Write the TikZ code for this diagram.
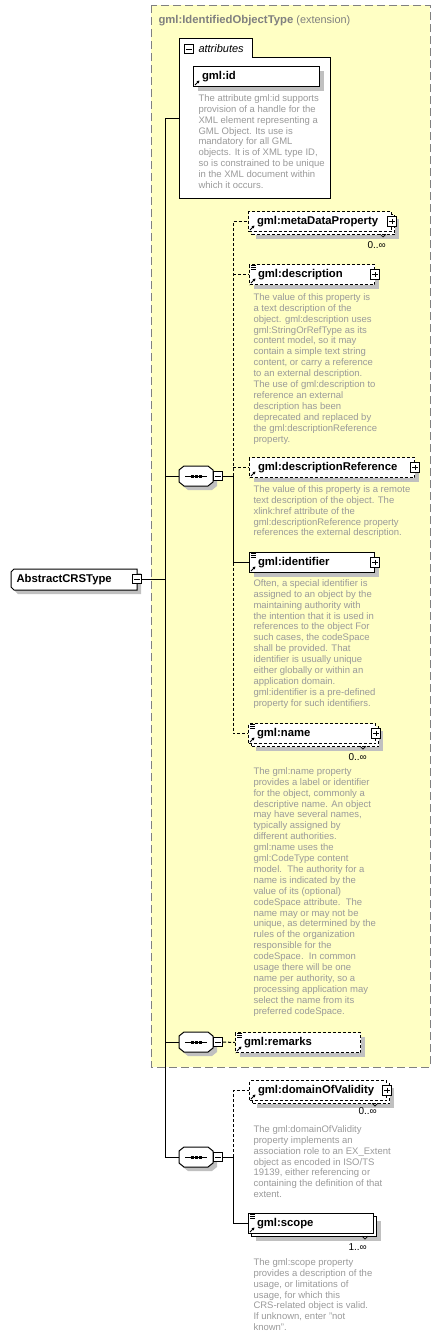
\documentclass[tikz,border=0pt]{standalone}
\usepackage{fontspec}
\setmainfont{Liberation Sans}
\usetikzlibrary{arrows.meta}
\usetikzlibrary{shadows}

\definecolor{extfill}{HTML}{FFFFC4}
\definecolor{extline}{HTML}{808080}
\definecolor{shade}{HTML}{C0C0C0}
\definecolor{doctext}{HTML}{9A9A9A}
\newcommand\elemfont{\bfseries\fontsize{11.3}{13}\selectfont}
\newcommand\docfont{\fontsize{9.5}{10.9}\selectfont}

\tikzset{
  boxshadow/.style={drop shadow={shadow xshift=4pt,shadow yshift=-4pt,fill=shade,opacity=1}},
  elembase/.style={draw,fill=white,anchor=north west,inner sep=0pt,minimum height=20pt,
    text width=#1,align=left,font=\elemfont,execute at begin node={\hspace*{8.5pt}}},
  elem/.style={elembase=#1,boxshadow},
  opt/.style={dash pattern=on 3pt off 2pt},
  pmbox/.style={draw,fill=white,minimum size=9.5pt,inner sep=0pt,line width=0.8pt},
  plusbox/.style={pmbox,path picture={
    \draw[line width=0.8pt] ([xshift=2pt]path picture bounding box.west) -- ([xshift=-2pt]path picture bounding box.east)
      ([yshift=-2pt]path picture bounding box.north) -- ([yshift=2pt]path picture bounding box.south);}},
  minusbox/.style={pmbox,path picture={
    \draw[line width=0.8pt] ([xshift=2pt]path picture bounding box.west) -- ([xshift=-2pt]path picture bounding box.east);}},
  doc/.style={anchor=north west,inner sep=0pt,align=left,font=\docfont,text=doctext,
    execute at begin node={\rule{0pt}{8pt}}},
  mult/.style={anchor=base west,inner sep=0pt,font=\fontsize{10}{12}\selectfont},
}

\begin{document}
\begin{tikzpicture}[x=1pt,y=-1pt,line width=1pt]
  \useasboundingbox (0,0) rectangle (441,1339);

  % extension frame
  \draw[extline,fill=extfill,dash pattern=on 8pt off 4pt] (151,5) rectangle (430,1067);
  \node[anchor=base west,inner sep=0pt,text=extline] (exttitle) at (158,23)
    {\elemfont gml:IdentifiedObjectType \normalfont\fontsize{10.9}{12}\selectfont(extension)};

  % attributes
  \filldraw[fill=white] (179,38) -- (252,38) -- (252,57) -- (330,57) -- (330,198) -- (179,198) -- cycle;
  \coordinate (attrleft) at (179,118);
  \node[minusbox] (attrminus) at (189,49) {};
  \node[anchor=base west,inner sep=0pt,font=\itshape\fontsize{11}{13}\selectfont] (attrlabel) at (198,52) {attributes};
  \node[elem=126pt] (gmlid) at (193,66) {gml:id};
  \node[doc] (gmliddoc) at (198,94) {The attribute gml:id supports\\provision of a handle for the\\XML element representing a\\GML Object. Its use is\\mandatory for all GML\\objects. It is of XML type ID,\\so is constrained to be unique\\in the XML document within\\which it occurs.};

  % trunk
  \coordinate (trunktop) at (165,118);
  \coordinate (trunkbot) at (165,1157);
  \draw (trunktop) -- (trunkbot);
  \draw (trunktop) -- (attrleft);

  % AbstractCRSType
  \filldraw[fill=white,boxshadow] (11,572) -- (14,569) -- (137,569) -- (137,590) -- (14,590) -- (11,587) -- cycle;
  \node[anchor=west,inner sep=0pt,font=\elemfont] (crs) at (16,579.5) {AbstractCRSType};
  \node[minusbox] (crsminus) at (137,579) {};
  \draw (crsminus.east) -- (crsminus.east -| trunktop);

  % sequences
  \foreach \n/\y in {s1/476,s2/1042,s3/1157} {
    \draw (179,\y) -- (179,\y -| trunktop);
    \filldraw[fill=white,boxshadow] (179,\y-6) -- (184,\y-10) -- (208,\y-10) -- (213,\y-6)
      -- (213,\y+6) -- (208,\y+10) -- (184,\y+10) -- (179,\y+6) -- cycle;
    \draw (185,\y) -- (207,\y);
    \foreach \d in {192,196,200}
      \fill (\d-1.5,\y-1.5) rectangle ++(3,3);
    \coordinate (\n) at (179,\y);
    \node[minusbox] (\n m) at (218,\y) {};
  }

  % elements of first sequence
  \node[elem=143pt,opt] (metaback) at (251,214) {};
  \node[elembase=143pt,opt] (metadata) at (248,211) {gml:metaDataProperty};
  \node[elem=125pt,opt] (description) at (249,264) {gml:description};
  \node[elem=165pt,opt] (descref) at (249,457) {gml:descriptionReference};
  \node[elem=125pt] (identifier) at (249,552) {gml:identifier};
  \node[elem=127pt,opt] (nameback) at (251,726) {};
  \node[elembase=127pt,opt] (gname) at (248,723) {gml:name};

  \coordinate (b1) at (233,476);
  \draw (s1m.east) -- (b1);
  \draw[opt] (b1) -- (b1 |- metadata.west) -- (metadata.west);
  \draw[opt] (b1 |- description.west) -- (description.west);
  \draw[opt] (b1 |- descref.west) -- (descref.west);
  \draw (b1) |- (identifier.west);
  \draw[opt] (b1 |- identifier.west) |- (gname.west);

  % second sequence
  \node[elem=125pt,opt] (remarks) at (235,1032) {gml:remarks};
  \draw[opt] (s2m.east) -- (remarks.west);

  % third sequence
  \node[elem=137pt,opt] (domainback) at (252,1083) {};
  \node[elembase=137pt,opt] (domain) at (249,1080) {gml:domainOfValidity};
  \node[elem=125pt] (scopeback) at (251,1216) {};
  \node[elembase=125pt] (scope) at (248,1213) {gml:scope};

  \coordinate (b3) at (233,1157);
  \draw (s3m.east) -- (b3);
  \draw[opt] (b3) |- (domain.west);
  \draw (b3) |- (scope.west);

  % plus boxes
  \foreach \n in {metadata,description,descref,identifier,gname,domain}
    \node[plusbox] (\n plus) at (\n.east) {};

  % icons
  \foreach \n in {gmlid,metadata,description,descref,identifier,gname,remarks,domain,scope}
    \draw[-{Triangle[length=2.5pt,width=2.8pt]},line width=0.9pt] ([shift={(2pt,2pt)}]\n.south west) -- ++(4.5pt,4.5pt);
  \foreach \n in {description,identifier,gname,remarks,scope}
    \foreach \k in {1.5pt,3.5pt,5.5pt}
      \draw[line width=0.7pt] ([shift={(2pt,-\k)}]\n.north west) -- ++(5pt,0pt);

  % occurrence ticks and labels
  \draw[line width=0.7pt] (380,234) -- (383,237) -- (386,234);
  \draw[line width=0.7pt] (360,746) -- (363,749) -- (366,746);
  \draw[line width=0.7pt] (372,1103) -- (375,1106) -- (378,1103);
  \draw[line width=0.7pt] (362,1236) -- (365,1239) -- (368,1236);
  \node[mult] (metamult) at (367,248) {0..∞};
  \node[mult] (namemult) at (348,760) {0..∞};
  \node[mult] (domainmult) at (358,1114) {0..∞};
  \node[mult] (scopemult) at (348,1250) {1..∞};

  % documentation
  \node[doc] (descriptiondoc) at (253,293) {The value of this property is\\a text description of the\\object. gml:description uses\\gml:StringOrRefType as its\\content model, so it may\\contain a simple text string\\content, or carry a reference\\to an external description.\\The use of gml:description to\\reference an external\\description has been\\deprecated and replaced by\\the gml:descriptionReference\\property.};
  \node[doc] (descrefdoc) at (253,485) {The value of this property is a remote\\text description of the object. The\\xlink:href attribute of the\\gml:descriptionReference property\\references the external description.};
  \node[doc] (identifierdoc) at (253,579) {Often, a special identifier is\\assigned to an object by the\\maintaining authority with\\the intention that it is used in\\references to the object For\\such cases, the codeSpace\\shall be provided. That\\identifier is usually unique\\either globally or within an\\application domain.\\gml:identifier is a pre-defined\\property for such identifiers.};
  \node[doc] (namedoc) at (253,767) {The gml:name property\\provides a label or identifier\\for the object, commonly a\\descriptive name. An object\\may have several names,\\typically assigned by\\different authorities.\\gml:name uses the\\gml:CodeType content\\model.\ \ The authority for a\\name is indicated by the\\value of its (optional)\\codeSpace attribute.\ \ The\\name may or may not be\\unique, as determined by the\\rules of the organization\\responsible for the\\codeSpace.\ \ In common\\usage there will be one\\name per authority, so a\\processing application may\\select the name from its\\preferred codeSpace.};
  \node[doc] (domaindoc) at (253,1125) {The gml:domainOfValidity\\property implements an\\association role to an EX\_Extent\\object as encoded in ISO/TS\\19139, either referencing or\\containing the definition of that\\extent.};
  \node[doc] (scopedoc) at (253,1258) {The gml:scope property\\provides a description of the\\usage, or limitations of\\usage, for which this\\CRS-related object is valid.\\If unknown, enter "not\\known".};
\end{tikzpicture}
\end{document}
